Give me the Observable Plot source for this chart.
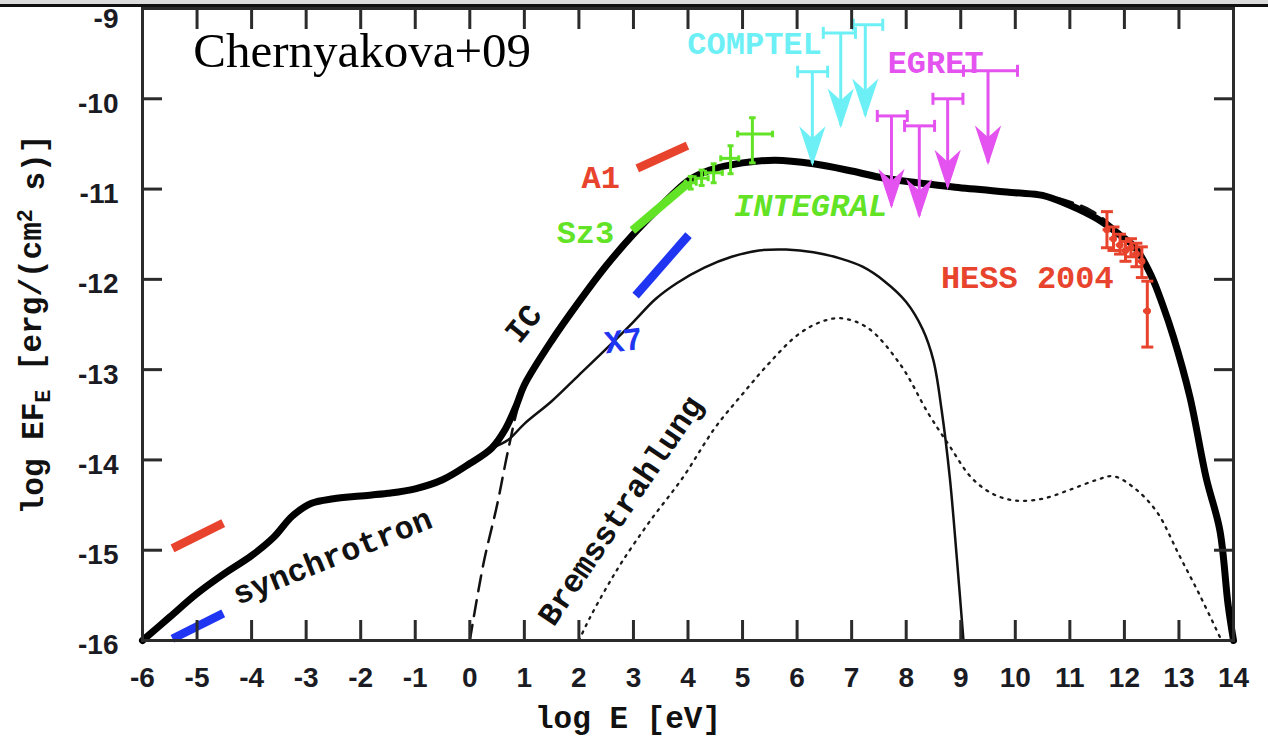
<!DOCTYPE html>
<html><head><meta charset="utf-8">
<script src="https://cdn.jsdelivr.net/npm/d3@7"></script>
<script src="https://cdn.jsdelivr.net/npm/@observablehq/plot@0.6"></script>
<style>
body{margin:0;background:#fff;}
#wrap{position:relative;width:1268px;height:746px;overflow:hidden;background:#fff;}
#topbar{position:absolute;left:0;top:0;width:1268px;height:4px;background:#dcdcdc;border-bottom:3px solid #111;}
</style></head><body><div id="wrap"><div id="topbar"></div></div>
<script>
// ---- model curves (log E [eV], log EF_E) ----
const totalX = [-6,-5.5,-5,-4.5,-4,-3.6,-3.25,-2.9,-2.5,-2,-1.5,-1,-0.5,0,0.4,0.65,0.85,1.0,1.5,2.0,2.5,3.0,3.5,4.0,4.4,5.0,5.6,6.3,7.0,7.6,8.2,8.9,10.0,10.5,11.0,11.5,11.9,12.2,12.5,12.7,12.9,13.2,13.5,13.75,13.9,14.0];
const totalY = [-16.0,-15.74,-15.48,-15.26,-15.06,-14.86,-14.62,-14.48,-14.43,-14.40,-14.37,-14.32,-14.22,-14.04,-13.87,-13.66,-13.40,-13.17,-12.68,-12.25,-11.85,-11.50,-11.19,-10.91,-10.79,-10.71,-10.68,-10.72,-10.80,-10.88,-10.93,-10.98,-11.04,-11.07,-11.18,-11.33,-11.50,-11.65,-11.97,-12.28,-12.64,-13.30,-14.20,-14.78,-15.60,-16.0];
const icX = [0,0.25,0.5,0.7,0.9,1.1,1.5,2.0,2.5,3.0,3.5,4.0,4.4,5.0,5.6,6.3,7.0,7.6,8.2,8.9,10.0,10.5,11.0,11.4,11.8,12.2];
const icY = [-16.0,-15.15,-14.5,-13.9,-13.38,-13.06,-12.68,-12.25,-11.85,-11.50,-11.19,-10.91,-10.79,-10.71,-10.68,-10.72,-10.80,-10.88,-10.93,-10.98,-11.03,-11.06,-11.14,-11.24,-11.42,-11.66];
const thinX = [0.4,0.7,1.0,1.5,2.0,2.5,3.0,3.4,3.8,4.3,4.8,5.3,5.8,6.3,6.8,7.2,7.6,8.0,8.3,8.5,8.65,8.8,8.93,9.05];
const thinY = [-13.87,-13.78,-13.6,-13.35,-13.06,-12.77,-12.47,-12.22,-12.04,-11.87,-11.75,-11.68,-11.67,-11.70,-11.77,-11.86,-12.02,-12.25,-12.55,-12.9,-13.45,-14.2,-15.1,-16.0];
const bremX = [2.0,2.2,2.5,2.8,3.3,3.9,4.5,5.0,5.5,6.0,6.4,6.8,7.3,7.9,8.4,8.8,9.2,9.6,10.0,10.5,11.0,11.5,11.8,12.2,12.6,13.0,13.4,13.78];
const bremY = [-16.0,-15.75,-15.42,-15.12,-14.68,-14.2,-13.64,-13.27,-12.92,-12.62,-12.48,-12.43,-12.54,-12.95,-13.48,-13.85,-14.2,-14.38,-14.45,-14.43,-14.33,-14.22,-14.18,-14.32,-14.58,-15.05,-15.52,-16.0];

// ---- observed bands (A1 red, Sz3 green, X7 blue) ----
const segName = ["A1","A1","Sz3","X7","X7"];
const segX1 = [-5.45, 3.07, 2.98, -5.45, 3.04];
const segY1 = [-14.98, -10.77, -11.46, -15.98, -12.18];
const segX2 = [-4.52, 3.99, 4.01, -4.52, 4.01];
const segY2 = [-14.70, -10.52, -10.93, -15.70, -11.51];

// ---- INTEGRAL ----
const intX = [4.05, 4.25, 4.47, 4.78, 5.18];
const intY = [-10.93, -10.88, -10.82, -10.66, -10.39];
const intXlo = [3.95, 4.13, 4.32, 4.60, 4.91];
const intXhi = [4.15, 4.37, 4.63, 4.93, 5.55];
const intYlo = [-11.00, -10.96, -10.93, -10.83, -10.71];
const intYhi = [-10.86, -10.79, -10.72, -10.52, -10.21];

// ---- COMPTEL / EGRET upper limits ----
const comptelX = [6.28, 6.80, 7.25];
const comptelXlo = [6.01, 6.48, 7.03];
const comptelXhi = [6.56, 7.07, 7.57];
const comptelY = [-9.70, -9.27, -9.18];
const comptelTip = [-10.72, -10.30, -10.19];
const egretX = [7.73, 8.24, 8.76, 9.50];
const egretXlo = [7.47, 7.97, 8.49, 9.05];
const egretXhi = [8.02, 8.52, 9.04, 10.04];
const egretY = [-10.19, -10.30, -10.00, -9.69];
const egretTip = [-11.19, -11.30, -10.98, -10.71];

// ---- HESS 2004 ----
const hessX = [11.68, 11.80, 11.92, 12.02, 12.12, 12.22, 12.32, 12.42];
const hessY = [-11.45, -11.55, -11.62, -11.68, -11.65, -11.72, -11.80, -12.35];
const hessLo = [-11.65, -11.68, -11.72, -11.80, -11.75, -11.86, -11.98, -12.75];
const hessHi = [-11.25, -11.42, -11.50, -11.58, -11.55, -11.60, -11.64, -12.02];

// ---- labels ----
const labelText = ["A1","Sz3","X7","IC","synchrotron","Bremsstrahlung","COMPTEL","EGRET","HESS 2004"];
const labelX = [2.40, 2.12, 2.82, 0.98, -2.52, 2.76, 5.22, 8.54, 10.22];
const labelY = [-10.88, -11.48, -12.68, -12.49, -15.07, -14.56, -9.39, -9.60, -11.98];
const labelRotate = [0, 0, -8, -51, -21.7, -56, 0, 0, 0];
const labelKind = ["A1","Sz3","X7","model","model","model","COMPTEL","EGRET","HESS"];

const xTicks = d3.range(-6, 15);
const yTicks = d3.range(-16, -8);
const yTickLabels = d3.range(-16, -9);
const yTopLabel = [-9];

const colors = {A1: "#e8432d", Sz3: "#62e326", X7: "#1f35f2", model: "#111", COMPTEL: "#6cf0f6", EGRET: "#e452f0", HESS: "#e8432d", INTEGRAL: "#62e326"};

const zip = (xs, ys) => xs.map((x, i) => ({x, y: ys[i]}));
const total = zip(totalX, totalY), ic = zip(icX, icY), thin = zip(thinX, thinY), brem = zip(bremX, bremY);
const segs = segName.map((n, i) => ({n, x1: segX1[i], y1: segY1[i], x2: segX2[i], y2: segY2[i], c: colors[n]}));
const integral = intX.map((x, i) => ({x, y: intY[i], xlo: intXlo[i], xhi: intXhi[i], ylo: intYlo[i], yhi: intYhi[i], big: i === intX.length - 1}));
const ul = (xs, lo, hi, yb, tip) => xs.map((x, i) => ({x, xlo: lo[i], xhi: hi[i], y: yb[i], tip: tip[i]}));
const comptel = ul(comptelX, comptelXlo, comptelXhi, comptelY, comptelTip);
const egret = ul(egretX, egretXlo, egretXhi, egretY, egretTip);
const hess = hessX.map((x, i) => ({x, y: hessY[i], lo: hessLo[i], hi: hessHi[i], xlo: x - 0.07, xhi: x + 0.07}));
const labels = labelText.map((t, i) => ({t, x: labelX[i], y: labelY[i], r: labelRotate[i], c: colors[labelKind[i]]}));

// custom symbols
const capV = {draw(ctx, size) { const r = Math.sqrt(size / Math.PI); ctx.moveTo(0, -r); ctx.lineTo(0, r); }};
const capH = {draw(ctx, size) { const r = Math.sqrt(size / Math.PI); ctx.moveTo(-r, 0); ctx.lineTo(r, 0); }};
const head = {draw(ctx, size) { const r = Math.sqrt(size / Math.PI); ctx.moveTo(0, 0); ctx.lineTo(-0.33 * r, -r); ctx.lineTo(0, -0.7 * r); ctx.lineTo(0.33 * r, -r); ctx.closePath(); }};

function upperLimits(rows, color) {
  return [
    Plot.ruleY(rows, {y: "y", x1: "xlo", x2: "xhi", stroke: color, strokeWidth: 3}),
    Plot.dot(rows, {x: "xlo", y: "y", symbol: capV, r: 6, stroke: color, strokeWidth: 3, fill: "none"}),
    Plot.dot(rows, {x: "xhi", y: "y", symbol: capV, r: 6, stroke: color, strokeWidth: 3, fill: "none"}),
    Plot.ruleX(rows, {x: "x", y1: "y", y2: "tip", stroke: color, strokeWidth: 3}),
    Plot.dot(rows, {x: "x", y: "tip", symbol: head, r: 35, fill: color, stroke: color, strokeWidth: 1.5})
  ];
}

const tickFont = {fontFamily: "Liberation Sans, Arial, sans-serif", fontSize: 28, fontWeight: "bold", fill: "#1b1b24"};
const monoFont = "Liberation Mono, Courier New, monospace";
const axisStroke = "#2b2b2b";

const chart = Plot.plot({
  width: 1268, height: 746,
  marginLeft: 142, marginRight: 35, marginTop: 8, marginBottom: 106,
  x: {domain: [-6, 14]},
  y: {domain: [-16, -9]},
  style: {background: "transparent", overflow: "visible"},
  marks: [
    // model curves
    Plot.line(brem, {x: "x", y: "y", stroke: "#1a1a1a", strokeWidth: 2.3, strokeDasharray: "2,6", curve: "catmull-rom"}),
    Plot.line(thin, {x: "x", y: "y", stroke: "#111", strokeWidth: 2.5, curve: "catmull-rom"}),
    Plot.line(ic, {x: "x", y: "y", stroke: "#111", strokeWidth: 2.5, strokeDasharray: "16,9", curve: "catmull-rom"}),
    Plot.line(total, {x: "x", y: "y", stroke: "#000", strokeWidth: 7, curve: "catmull-rom", strokeLinejoin: "round"}),
    // observed bands
    Plot.link(segs, {x1: "x1", y1: "y1", x2: "x2", y2: "y2", stroke: d => d.c, strokeWidth: 8.5}),
    // labels
    Plot.text(labels, {x: "x", y: "y", text: "t", fill: d => d.c, rotate: "r", fontFamily: monoFont, fontSize: 32, fontWeight: "bold"}),
    Plot.text(["INTEGRAL"], {x: () => 6.25, y: () => -11.18, text: d => d, fill: colors.INTEGRAL, fontFamily: monoFont, fontSize: 32, fontWeight: "bold", fontStyle: "italic"}),
    Plot.text(["Chernyakova+09"], {x: () => -5.07, y: () => -9.47, text: d => d, textAnchor: "start", fill: "#000", fontFamily: "Liberation Serif, Times New Roman, serif", fontSize: 49}),
    // INTEGRAL points
    Plot.ruleX(integral, {x: "x", y1: "ylo", y2: "yhi", stroke: colors.INTEGRAL, strokeWidth: 3}),
    Plot.ruleY(integral, {y: "y", x1: "xlo", x2: "xhi", stroke: colors.INTEGRAL, strokeWidth: 3}),
    Plot.dot(integral, {x: "x", y: "ylo", symbol: capH, r: d => d.big ? 6 : 5, stroke: colors.INTEGRAL, strokeWidth: 3, fill: "none"}),
    Plot.dot(integral, {x: "x", y: "yhi", symbol: capH, r: d => d.big ? 6 : 5, stroke: colors.INTEGRAL, strokeWidth: 3, fill: "none"}),
    Plot.dot(integral, {x: "xlo", y: "y", symbol: capV, r: d => d.big ? 6 : 5, stroke: colors.INTEGRAL, strokeWidth: 3, fill: "none"}),
    Plot.dot(integral, {x: "xhi", y: "y", symbol: capV, r: d => d.big ? 6 : 5, stroke: colors.INTEGRAL, strokeWidth: 3, fill: "none"}),
    // upper limits
    ...upperLimits(comptel, colors.COMPTEL),
    ...upperLimits(egret, colors.EGRET),
    // HESS
    Plot.ruleX(hess, {x: "x", y1: "lo", y2: "hi", stroke: colors.HESS, strokeWidth: 3}),
    Plot.ruleY(hess, {y: "y", x1: "xlo", x2: "xhi", stroke: colors.HESS, strokeWidth: 3}),
    Plot.dot(hess, {x: "x", y: "lo", symbol: capH, r: 6, stroke: colors.HESS, strokeWidth: 3, fill: "none"}),
    Plot.dot(hess, {x: "x", y: "hi", symbol: capH, r: 6, stroke: colors.HESS, strokeWidth: 3, fill: "none"}),
    Plot.dot(hess, {x: "x", y: "y", r: 3.5, fill: colors.HESS}),
    // frame and axes
    Plot.frame({stroke: axisStroke, strokeWidth: 3}),
    Plot.axisX(xTicks, {anchor: "bottom", tickSize: -20, stroke: axisStroke, strokeWidth: 3, tickFormat: () => "", label: null}),
    Plot.axisX(xTicks, {anchor: "top", tickSize: -20, stroke: axisStroke, strokeWidth: 3, tickFormat: () => "", label: null}),
    Plot.axisY(yTicks, {anchor: "left", tickSize: -20, stroke: axisStroke, strokeWidth: 3, tickFormat: () => "", label: null}),
    Plot.axisY(yTicks, {anchor: "right", tickSize: -20, stroke: axisStroke, strokeWidth: 3, tickFormat: () => "", label: null}),
    Plot.axisX(xTicks, {anchor: "bottom", tickSize: 0, tickPadding: 27, tickFormat: d => String(d), label: null, ...tickFont}),
    Plot.axisY(yTickLabels, {anchor: "left", tickSize: 0, tickPadding: 24, dy: 5, tickFormat: d => String(d), label: null, ...tickFont}),
    Plot.axisY(yTopLabel, {anchor: "left", tickSize: 0, tickPadding: 24, dy: 11, tickFormat: d => String(d), label: null, ...tickFont}),
    // axis titles
    Plot.text(["log E [eV]"], {frameAnchor: "bottom", dx: -60, dy: 87, text: d => d, fill: "#111", fontFamily: monoFont, fontSize: 31, fontWeight: "bold"}),
    Plot.text(["YTITLE"], {frameAnchor: "left", dx: -109, text: d => d, rotate: -90, fill: "#111", fontFamily: monoFont, fontSize: 31, fontWeight: "bold"})
  ]
});

document.getElementById("wrap").insertBefore(chart, document.getElementById("topbar"));

// y title with sub/superscripts, re-centred manually
const yt = d3.select(chart).selectAll("text").filter(function() { return this.textContent === "YTITLE"; });
yt.text(null);
yt.append("tspan").text("log EF");
yt.append("tspan").attr("dy", "0.3em").attr("font-size", "70%").text("E");
yt.append("tspan").attr("dy", "-0.3em").text(" [erg/(cm");
yt.append("tspan").attr("dy", "-0.4em").attr("font-size", "70%").text("2");
yt.append("tspan").attr("dy", "0.4em").text(" s)]");
yt.each(function() {
  const len = this.getComputedTextLength();
  this.setAttribute("text-anchor", "start");
  this.style.textAnchor = "start";
  this.setAttribute("x", -len / 2);
});
</script>
</body></html>
